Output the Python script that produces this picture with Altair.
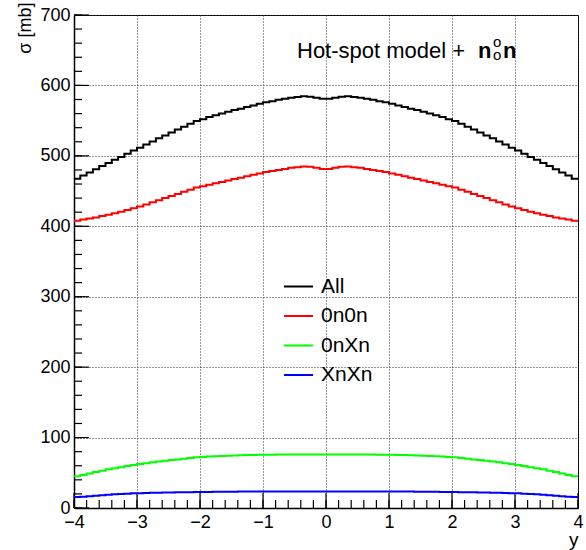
import altair as alt
import pandas as pd
import numpy as np

# ---------------- data ----------------
bin_lo = -4.0
bin_width = 0.1
series_names = ["All", "0n0n", "0nXn", "XnXn"]
series_colors = ["#000000", "#ff0000", "#00ff00", "#0000ff"]

all_vals = [467.5, 472, 476.5, 481, 485.5, 490, 494.5, 498.5, 503, 507.5,
            511.5, 516, 520.5, 525, 529, 533, 537.5, 541.5, 545.5, 549.5,
            552, 555, 557.5, 560, 562.5, 565, 567, 569.5, 571.5, 574,
            576, 577.5, 579.5, 581, 582.5, 583.5, 584.5, 584, 582.5, 581,
            581, 582.5, 584, 584.5, 583.5, 582.5, 581, 579.5, 577.5, 576,
            574, 571.5, 569.5, 567, 565, 562.5, 560, 557.5, 555, 552,
            549.5, 545.5, 541.5, 537.5, 533, 529, 525, 520.5, 516, 511.5,
            507.5, 503, 498.5, 494.5, 490, 485.5, 481, 476.5, 472, 467.5]

n0n0_vals = [408, 409.5, 411, 412.5, 414.5, 416.5, 418.5, 420.5, 423, 425.5,
             428, 431, 434, 437, 440, 443, 446, 449, 452, 455,
             457, 459, 461, 463, 465, 467, 469, 471, 473, 475,
             477, 478.5, 480, 481.5, 483, 484, 485, 484.5, 483, 481.5,
             481.5, 483, 484.5, 485, 484, 483, 481.5, 480, 478.5, 477,
             475, 473, 471, 469, 467, 465, 463, 461, 459, 457,
             455, 452, 449, 446, 443, 440, 437, 434, 431, 428,
             425.5, 423, 420.5, 418.5, 416.5, 414.5, 412.5, 411, 409.5, 408]

n0xn_vals = [45, 47, 49, 51, 53, 55, 56.5, 58, 59.5, 61,
             62.5, 63.5, 65, 66, 67, 68, 69, 70, 71, 72,
             72.5, 73, 73.5, 74, 74.3, 74.6, 74.9, 75.1, 75.3, 75.5,
             75.6, 75.7, 75.8, 75.9, 76, 76, 76, 76.1, 76.1, 76.1,
             76.1, 76.1, 76.1, 76, 76, 76, 75.9, 75.8, 75.7, 75.6,
             75.5, 75.3, 75.1, 74.9, 74.6, 74.3, 74, 73.5, 73, 72.5,
             72, 71, 70, 69, 68, 67, 66, 65, 63.5, 62.5,
             61, 59.5, 58, 56.5, 55, 53, 51, 49, 47, 45]

xnxn_vals = [15.5, 16, 16.8, 17.5, 18.2, 18.8, 19.4, 20, 20.4, 20.8,
             21.1, 21.3, 21.6, 21.8, 22, 22.1, 22.3, 22.4, 22.5, 22.6,
             22.7, 22.8, 22.9, 23, 23.1, 23.2, 23.3, 23.3, 23.4, 23.4,
             23.5, 23.5, 23.5, 23.6, 23.6, 23.6, 23.6, 23.6, 23.6, 23.6,
             23.6, 23.6, 23.6, 23.6, 23.6, 23.6, 23.6, 23.5, 23.5, 23.5,
             23.4, 23.4, 23.3, 23.3, 23.2, 23.1, 23, 22.9, 22.8, 22.7,
             22.6, 22.5, 22.4, 22.3, 22.1, 22, 21.8, 21.6, 21.3, 21.1,
             20.8, 20.4, 20, 19.4, 18.8, 18.2, 17.5, 16.8, 16, 15.5]

x_major = [-4, -3, -2, -1, 0, 1, 2, 3, 4]
y_major = [0, 100, 200, 300, 400, 500, 600, 700]
x_minor = [round(-4 + 0.2 * i, 2) for i in range(41)]
y_minor = list(range(0, 701, 20))

# ---------------- build long table ----------------
rows = []
for name, vals in zip(series_names, [all_vals, n0n0_vals, n0xn_vals, xnxn_vals]):
    n = len(vals)
    edges = np.round(bin_lo + bin_width * np.arange(n + 1), 4)
    ext = list(vals) + [vals[-1]]
    for e, v in zip(edges, ext):
        rows.append({"series": name, "x": float(e), "sigma": float(v)})
df = pd.DataFrame(rows)

FONT = "Liberation Sans"
W, H = 504, 493

xscale = alt.Scale(domain=[-4, 4], nice=False, zero=False)
yscale = alt.Scale(domain=[0, 700], nice=False, zero=False)

x_axis = alt.Axis(values=x_major, format="d", ticks=False, grid=True,
                  gridDash=[1, 2], gridColor="#333", gridWidth=1,
                  domainColor="#000", domainWidth=1.5,
                  labelFont=FONT, labelFontSize=18, labelColor="#000",
                  labelPadding=5, labelFlush=False,
                  title="y", titleFont=FONT, titleFontSize=19,
                  titleFontWeight="normal", titleColor="#000",
                  titleAnchor="end", titleAlign="right",
                  titleX=W, titleY=37, titleBaseline="alphabetic")
y_axis = alt.Axis(values=y_major, format="d", ticks=False, grid=True,
                  gridDash=[1, 2], gridColor="#333", gridWidth=1,
                  domainColor="#000", domainWidth=1.5,
                  labelFont=FONT, labelFontSize=18, labelColor="#000",
                  labelPadding=4, labelFlush=False,
                  title="σ [mb]", titleFont=FONT, titleFontSize=18,
                  titleFontWeight="normal", titleColor="#000",
                  titleAngle=270, titleAlign="right",
                  titleBaseline="middle", titleLimit=200,
                  titleX=-49, titleY=-13)

X = alt.X("x:Q", scale=xscale, axis=x_axis)
Y = alt.Y("sigma:Q", scale=yscale, axis=y_axis)

# inward-pointing ticks (ROOT style), placed through the shared scales
TICK = dict(color="#000", strokeWidth=1.2)
xmaj = alt.Chart(pd.DataFrame({"x": x_major})).mark_rule(**TICK).encode(
    x=X, y=alt.value(H), y2=alt.value(H - 15))
xmin = alt.Chart(pd.DataFrame({"x": x_minor})).mark_rule(**TICK).encode(
    x=X, y=alt.value(H), y2=alt.value(H - 8))
ymaj = alt.Chart(pd.DataFrame({"sigma": y_major})).mark_rule(**TICK).encode(
    y=Y, x=alt.value(0), x2=alt.value(15))
ymin = alt.Chart(pd.DataFrame({"sigma": y_minor})).mark_rule(**TICK).encode(
    y=Y, x=alt.value(0), x2=alt.value(8))

lines = alt.Chart(df).mark_line(interpolate="step-after", strokeWidth=2).encode(
    x=X, y=Y,
    color=alt.Color("series:N",
                    scale=alt.Scale(domain=series_names, range=series_colors),
                    legend=alt.Legend(orient="none", legendX=209, legendY=256,
                                      title=None, symbolType="stroke",
                                      symbolSize=841, symbolStrokeWidth=2,
                                      labelFont=FONT, labelFontSize=21,
                                      labelColor="#000", labelOffset=7,
                                      rowPadding=3.5, padding=0)),
)

t_main = alt.Chart(pd.DataFrame({"t": ["Hot-spot model +"]})).mark_text(
    font=FONT, fontSize=22, align="left", baseline="alphabetic", color="#000").encode(
    x=alt.value(223), y=alt.value(43), text="t:N")
t_n1 = alt.Chart(pd.DataFrame({"t": ["n"]})).mark_text(
    font=FONT, fontSize=22, fontWeight="bold", align="left",
    baseline="alphabetic", color="#000").encode(
    x=alt.value(404), y=alt.value(43), text="t:N")
t_sup = alt.Chart(pd.DataFrame({"t": ["o"]})).mark_text(
    font=FONT, fontSize=15, align="left", baseline="alphabetic",
    color="#000").encode(x=alt.value(419), y=alt.value(32), text="t:N")
t_sub = alt.Chart(pd.DataFrame({"t": ["o"]})).mark_text(
    font=FONT, fontSize=15, align="left", baseline="alphabetic",
    color="#000").encode(x=alt.value(419), y=alt.value(45), text="t:N")
t_n2 = alt.Chart(pd.DataFrame({"t": ["n"]})).mark_text(
    font=FONT, fontSize=22, fontWeight="bold", align="left",
    baseline="alphabetic", color="#000").encode(
    x=alt.value(429), y=alt.value(43), text="t:N")

chart = alt.layer(xmaj, xmin, ymaj, ymin, lines,
                  t_main, t_n1, t_sup, t_sub, t_n2).properties(
    width=W, height=H,
    autosize=alt.AutoSizeParams(type="none"),
    padding={"left": 74, "top": 15, "right": 8, "bottom": 42},
    background="white",
).configure_view(stroke="#000", strokeWidth=1)

chart.save("out.html", embed_options={"renderer": "svg", "actions": False})
